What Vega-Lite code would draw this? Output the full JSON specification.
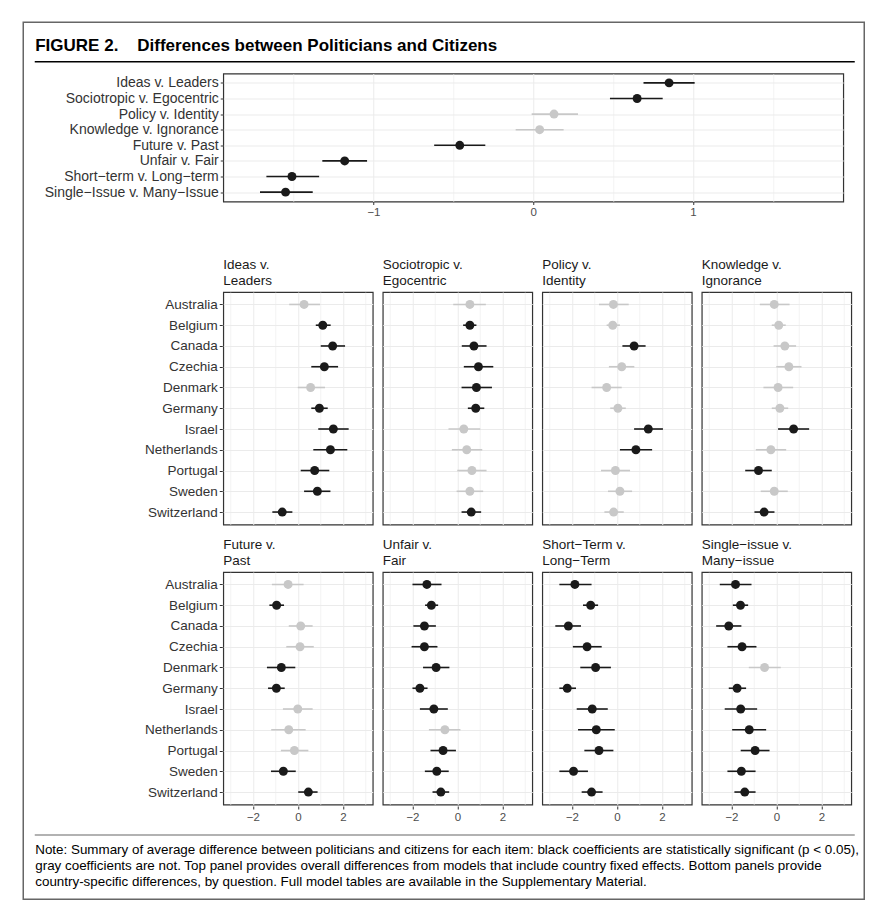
{
  "$schema": "https://vega.github.io/schema/vega-lite/v6.json",
  "padding": {"left": 22.25, "top": 21.25, "right": 5, "bottom": 5},
  "background": "white",
  "config": {
    "font": "Liberation Sans",
    "view": {"stroke": "#333333", "strokeWidth": 1.2}
  },
  "datasets": {
    "overall": [
      {"item": "Ideas v. Leaders", "est": 0.85, "lo": 0.69, "hi": 1.01, "sig": "yes"},
      {"item": "Sociotropic v. Egocentric", "est": 0.65, "lo": 0.48, "hi": 0.81, "sig": "yes"},
      {"item": "Policy v. Identity", "est": 0.13, "lo": -0.01, "hi": 0.28, "sig": "no"},
      {"item": "Knowledge v. Ignorance", "est": 0.04, "lo": -0.11, "hi": 0.19, "sig": "no"},
      {"item": "Future v. Past", "est": -0.46, "lo": -0.62, "hi": -0.30, "sig": "yes"},
      {"item": "Unfair v. Fair", "est": -1.18, "lo": -1.32, "hi": -1.04, "sig": "yes"},
      {"item": "Short−term v. Long−term", "est": -1.51, "lo": -1.67, "hi": -1.34, "sig": "yes"},
      {"item": "Single−Issue v. Many−Issue", "est": -1.55, "lo": -1.71, "hi": -1.38, "sig": "yes"}
    ],
    "country": [
      {"q": "Ideas v.|Leaders", "country": "Australia", "est": 0.27, "lo": -0.39, "hi": 0.98, "sig": "no"},
      {"q": "Ideas v.|Leaders", "country": "Belgium", "est": 1.10, "lo": 0.79, "hi": 1.45, "sig": "yes"},
      {"q": "Ideas v.|Leaders", "country": "Canada", "est": 1.54, "lo": 1.01, "hi": 2.09, "sig": "yes"},
      {"q": "Ideas v.|Leaders", "country": "Czechia", "est": 1.17, "lo": 0.59, "hi": 1.78, "sig": "yes"},
      {"q": "Ideas v.|Leaders", "country": "Denmark", "est": 0.56, "lo": -0.01, "hi": 1.20, "sig": "no"},
      {"q": "Ideas v.|Leaders", "country": "Germany", "est": 0.95, "lo": 0.59, "hi": 1.32, "sig": "yes"},
      {"q": "Ideas v.|Leaders", "country": "Israel", "est": 1.57, "lo": 0.90, "hi": 2.25, "sig": "yes"},
      {"q": "Ideas v.|Leaders", "country": "Netherlands", "est": 1.44, "lo": 0.68, "hi": 2.19, "sig": "yes"},
      {"q": "Ideas v.|Leaders", "country": "Portugal", "est": 0.74, "lo": 0.12, "hi": 1.39, "sig": "yes"},
      {"q": "Ideas v.|Leaders", "country": "Sweden", "est": 0.86, "lo": 0.27, "hi": 1.44, "sig": "yes"},
      {"q": "Ideas v.|Leaders", "country": "Switzerland", "est": -0.70, "lo": -1.14, "hi": -0.25, "sig": "yes"},

      {"q": "Sociotropic v.|Egocentric", "country": "Australia", "est": 0.55, "lo": -0.19, "hi": 1.26, "sig": "no"},
      {"q": "Sociotropic v.|Egocentric", "country": "Belgium", "est": 0.55, "lo": 0.25, "hi": 0.84, "sig": "yes"},
      {"q": "Sociotropic v.|Egocentric", "country": "Canada", "est": 0.73, "lo": 0.19, "hi": 1.29, "sig": "yes"},
      {"q": "Sociotropic v.|Egocentric", "country": "Czechia", "est": 0.93, "lo": 0.28, "hi": 1.59, "sig": "yes"},
      {"q": "Sociotropic v.|Egocentric", "country": "Denmark", "est": 0.84, "lo": 0.18, "hi": 1.53, "sig": "yes"},
      {"q": "Sociotropic v.|Egocentric", "country": "Germany", "est": 0.81, "lo": 0.46, "hi": 1.19, "sig": "yes"},
      {"q": "Sociotropic v.|Egocentric", "country": "Israel", "est": 0.28, "lo": -0.40, "hi": 1.01, "sig": "no"},
      {"q": "Sociotropic v.|Egocentric", "country": "Netherlands", "est": 0.41, "lo": -0.25, "hi": 1.10, "sig": "no"},
      {"q": "Sociotropic v.|Egocentric", "country": "Portugal", "est": 0.64, "lo": -0.01, "hi": 1.29, "sig": "no"},
      {"q": "Sociotropic v.|Egocentric", "country": "Sweden", "est": 0.55, "lo": -0.04, "hi": 1.14, "sig": "no"},
      {"q": "Sociotropic v.|Egocentric", "country": "Switzerland", "est": 0.61, "lo": 0.18, "hi": 1.05, "sig": "yes"},

      {"q": "Policy v.|Identity", "country": "Australia", "est": -0.16, "lo": -0.80, "hi": 0.52, "sig": "no"},
      {"q": "Policy v.|Identity", "country": "Belgium", "est": -0.19, "lo": -0.46, "hi": 0.13, "sig": "no"},
      {"q": "Policy v.|Identity", "country": "Canada", "est": 0.76, "lo": 0.24, "hi": 1.27, "sig": "yes"},
      {"q": "Policy v.|Identity", "country": "Czechia", "est": 0.21, "lo": -0.36, "hi": 0.77, "sig": "no"},
      {"q": "Policy v.|Identity", "country": "Denmark", "est": -0.46, "lo": -1.13, "hi": 0.21, "sig": "no"},
      {"q": "Policy v.|Identity", "country": "Germany", "est": 0.04, "lo": -0.30, "hi": 0.39, "sig": "no"},
      {"q": "Policy v.|Identity", "country": "Israel", "est": 1.39, "lo": 0.76, "hi": 2.04, "sig": "yes"},
      {"q": "Policy v.|Identity", "country": "Netherlands", "est": 0.84, "lo": 0.13, "hi": 1.56, "sig": "yes"},
      {"q": "Policy v.|Identity", "country": "Portugal", "est": -0.07, "lo": -0.71, "hi": 0.58, "sig": "no"},
      {"q": "Policy v.|Identity", "country": "Sweden", "est": 0.13, "lo": -0.40, "hi": 0.67, "sig": "no"},
      {"q": "Policy v.|Identity", "country": "Switzerland", "est": -0.15, "lo": -0.56, "hi": 0.30, "sig": "no"},

      {"q": "Knowledge v.|Ignorance", "country": "Australia", "est": -0.10, "lo": -0.74, "hi": 0.58, "sig": "no"},
      {"q": "Knowledge v.|Ignorance", "country": "Belgium", "est": 0.10, "lo": -0.21, "hi": 0.41, "sig": "no"},
      {"q": "Knowledge v.|Ignorance", "country": "Canada", "est": 0.37, "lo": -0.13, "hi": 0.87, "sig": "no"},
      {"q": "Knowledge v.|Ignorance", "country": "Czechia", "est": 0.55, "lo": -0.01, "hi": 1.11, "sig": "no"},
      {"q": "Knowledge v.|Ignorance", "country": "Denmark", "est": 0.07, "lo": -0.58, "hi": 0.74, "sig": "no"},
      {"q": "Knowledge v.|Ignorance", "country": "Germany", "est": 0.15, "lo": -0.21, "hi": 0.52, "sig": "no"},
      {"q": "Knowledge v.|Ignorance", "country": "Israel", "est": 0.76, "lo": 0.07, "hi": 1.45, "sig": "yes"},
      {"q": "Knowledge v.|Ignorance", "country": "Netherlands", "est": -0.25, "lo": -0.92, "hi": 0.43, "sig": "no"},
      {"q": "Knowledge v.|Ignorance", "country": "Portugal", "est": -0.80, "lo": -1.39, "hi": -0.21, "sig": "yes"},
      {"q": "Knowledge v.|Ignorance", "country": "Sweden", "est": -0.10, "lo": -0.70, "hi": 0.50, "sig": "no"},
      {"q": "Knowledge v.|Ignorance", "country": "Switzerland", "est": -0.55, "lo": -0.98, "hi": -0.09, "sig": "yes"},

      {"q": "Future v.|Past", "country": "Australia", "est": -0.44, "lo": -1.16, "hi": 0.25, "sig": "no"},
      {"q": "Future v.|Past", "country": "Belgium", "est": -0.95, "lo": -1.27, "hi": -0.62, "sig": "yes"},
      {"q": "Future v.|Past", "country": "Canada", "est": 0.12, "lo": -0.41, "hi": 0.65, "sig": "no"},
      {"q": "Future v.|Past", "country": "Czechia", "est": 0.09, "lo": -0.52, "hi": 0.70, "sig": "no"},
      {"q": "Future v.|Past", "country": "Denmark", "est": -0.74, "lo": -1.38, "hi": -0.12, "sig": "yes"},
      {"q": "Future v.|Past", "country": "Germany", "est": -0.96, "lo": -1.33, "hi": -0.59, "sig": "yes"},
      {"q": "Future v.|Past", "country": "Israel", "est": -0.01, "lo": -0.67, "hi": 0.65, "sig": "no"},
      {"q": "Future v.|Past", "country": "Netherlands", "est": -0.41, "lo": -1.19, "hi": 0.34, "sig": "no"},
      {"q": "Future v.|Past", "country": "Portugal", "est": -0.16, "lo": -0.76, "hi": 0.46, "sig": "no"},
      {"q": "Future v.|Past", "country": "Sweden", "est": -0.65, "lo": -1.20, "hi": -0.10, "sig": "yes"},
      {"q": "Future v.|Past", "country": "Switzerland", "est": 0.46, "lo": 0.01, "hi": 0.87, "sig": "yes"},

      {"q": "Unfair v.|Fair", "country": "Australia", "est": -1.36, "lo": -2.00, "hi": -0.71, "sig": "yes"},
      {"q": "Unfair v.|Fair", "country": "Belgium", "est": -1.16, "lo": -1.44, "hi": -0.86, "sig": "yes"},
      {"q": "Unfair v.|Fair", "country": "Canada", "est": -1.47, "lo": -1.96, "hi": -0.96, "sig": "yes"},
      {"q": "Unfair v.|Fair", "country": "Czechia", "est": -1.47, "lo": -2.04, "hi": -0.89, "sig": "yes"},
      {"q": "Unfair v.|Fair", "country": "Denmark", "est": -0.95, "lo": -1.53, "hi": -0.36, "sig": "yes"},
      {"q": "Unfair v.|Fair", "country": "Germany", "est": -1.67, "lo": -2.00, "hi": -1.33, "sig": "yes"},
      {"q": "Unfair v.|Fair", "country": "Israel", "est": -1.05, "lo": -1.67, "hi": -0.43, "sig": "yes"},
      {"q": "Unfair v.|Fair", "country": "Netherlands", "est": -0.56, "lo": -1.27, "hi": 0.13, "sig": "no"},
      {"q": "Unfair v.|Fair", "country": "Portugal", "est": -0.64, "lo": -1.20, "hi": -0.07, "sig": "yes"},
      {"q": "Unfair v.|Fair", "country": "Sweden", "est": -0.92, "lo": -1.45, "hi": -0.39, "sig": "yes"},
      {"q": "Unfair v.|Fair", "country": "Switzerland", "est": -0.74, "lo": -1.11, "hi": -0.37, "sig": "yes"},

      {"q": "Short−Term v.|Long−Term", "country": "Australia", "est": -1.87, "lo": -2.56, "hi": -1.13, "sig": "yes"},
      {"q": "Short−Term v.|Long−Term", "country": "Belgium", "est": -1.17, "lo": -1.51, "hi": -0.84, "sig": "yes"},
      {"q": "Short−Term v.|Long−Term", "country": "Canada", "est": -2.16, "lo": -2.74, "hi": -1.60, "sig": "yes"},
      {"q": "Short−Term v.|Long−Term", "country": "Czechia", "est": -1.33, "lo": -1.96, "hi": -0.68, "sig": "yes"},
      {"q": "Short−Term v.|Long−Term", "country": "Denmark", "est": -0.95, "lo": -1.63, "hi": -0.27, "sig": "yes"},
      {"q": "Short−Term v.|Long−Term", "country": "Germany", "est": -2.21, "lo": -2.56, "hi": -1.82, "sig": "yes"},
      {"q": "Short−Term v.|Long−Term", "country": "Israel", "est": -1.10, "lo": -1.79, "hi": -0.41, "sig": "yes"},
      {"q": "Short−Term v.|Long−Term", "country": "Netherlands", "est": -0.92, "lo": -1.73, "hi": -0.10, "sig": "yes"},
      {"q": "Short−Term v.|Long−Term", "country": "Portugal", "est": -0.80, "lo": -1.45, "hi": -0.16, "sig": "yes"},
      {"q": "Short−Term v.|Long−Term", "country": "Sweden", "est": -1.93, "lo": -2.56, "hi": -1.29, "sig": "yes"},
      {"q": "Short−Term v.|Long−Term", "country": "Switzerland", "est": -1.13, "lo": -1.57, "hi": -0.64, "sig": "yes"},

      {"q": "Single−issue v.|Many−issue", "country": "Australia", "est": -1.82, "lo": -2.52, "hi": -1.11, "sig": "yes"},
      {"q": "Single−issue v.|Many−issue", "country": "Belgium", "est": -1.60, "lo": -1.94, "hi": -1.26, "sig": "yes"},
      {"q": "Single−issue v.|Many−issue", "country": "Canada", "est": -2.12, "lo": -2.68, "hi": -1.56, "sig": "yes"},
      {"q": "Single−issue v.|Many−issue", "country": "Czechia", "est": -1.53, "lo": -2.18, "hi": -0.89, "sig": "yes"},
      {"q": "Single−issue v.|Many−issue", "country": "Denmark", "est": -0.53, "lo": -1.23, "hi": 0.19, "sig": "no"},
      {"q": "Single−issue v.|Many−issue", "country": "Germany", "est": -1.75, "lo": -2.12, "hi": -1.35, "sig": "yes"},
      {"q": "Single−issue v.|Many−issue", "country": "Israel", "est": -1.59, "lo": -2.30, "hi": -0.86, "sig": "yes"},
      {"q": "Single−issue v.|Many−issue", "country": "Netherlands", "est": -1.21, "lo": -1.97, "hi": -0.46, "sig": "yes"},
      {"q": "Single−issue v.|Many−issue", "country": "Portugal", "est": -0.95, "lo": -1.59, "hi": -0.31, "sig": "yes"},
      {"q": "Single−issue v.|Many−issue", "country": "Sweden", "est": -1.56, "lo": -2.18, "hi": -0.93, "sig": "yes"},
      {"q": "Single−issue v.|Many−issue", "country": "Switzerland", "est": -1.41, "lo": -1.87, "hi": -0.93, "sig": "yes"}
    ]
  },
  "columns": 1,
  "align": {"row": "none", "column": "each"},
  "spacing": -864.25,
  "concat": [
    {
      "width": 641,
      "height": 877,
      "view": {"stroke": null},
      "data": {"values": [{}]},
      "mark": {"type": "rect", "fill": null, "fillOpacity": 0, "stroke": "#666666", "strokeWidth": 1.5},
      "encoding": {
        "x": {"datum": 0, "type": "quantitative", "scale": {"domain": [0, 1], "range": [-200, 641]}, "axis": null},
        "x2": {"datum": 1},
        "y": {"datum": 0, "type": "quantitative", "scale": {"domain": [0, 1]}, "axis": null},
        "y2": {"datum": 1}
      }
    },
    {
      "columns": 1,
      "align": {"row": "none", "column": "each"},
      "spacing": 10.5,
      "concat": [
        {
          "width": 631,
          "height": 23.3,
          "view": {"stroke": null},
          "data": {"values": [{}]},
          "mark": {"type": "text", "text": "FIGURE 2.\u00a0\u00a0\u00a0\u00a0Differences between Politicians and Citizens", "align": "left", "baseline": "alphabetic", "fontSize": 17, "fontWeight": "bold", "color": "#000000"},
          "encoding": {
            "x": {"datum": 0.0012, "type": "quantitative", "scale": {"domain": [0, 1], "range": [-189, 631]},
              "axis": {"orient": "bottom", "domain": true, "domainColor": "#000000", "domainWidth": 1.5, "ticks": false, "labels": false, "grid": false, "title": null}},
            "y": {"datum": 0.46, "type": "quantitative", "scale": {"domain": [0, 1]}, "axis": null}
          }
        },
        {
          "width": 620,
          "height": 128,
          "data": {"name": "overall"},
          "resolve": {"axis": {"x": "independent"}},
          "encoding": {
            "y": {
              "field": "item",
              "type": "nominal",
              "sort": null,
              "scale": {"type": "point", "padding": 0.6},
              "axis": {
                "title": null,
                "domain": false,
                "grid": true,
                "gridColor": "#ebebeb",
                "gridWidth": 1,
                "tickSize": 3,
                "tickColor": "#333333",
                "labelFontSize": 14,
                "labelColor": "#333333",
                "labelPadding": 2,
                "minExtent": 189
              }
            }
          },
          "layer": [
            {
              "mark": {"type": "rule", "strokeWidth": 1.6},
              "encoding": {
                "x": {
                  "field": "lo",
                  "type": "quantitative",
                  "scale": {"domain": [-1.94, 1.94], "nice": false, "zero": false},
                  "axis": {
                    "orient": "bottom",
                    "title": null,
                    "values": [-1, 0, 1],
                    "domain": false,
                    "grid": true,
                    "gridColor": "#ebebeb",
                    "gridWidth": 1,
                    "tickSize": 3,
                    "tickColor": "#333333",
                    "labelFontSize": 11.5,
                    "labelColor": "#4d4d4d",
                    "labelPadding": 2,
                    "minExtent": 44
                  }
                },
                "x2": {"field": "hi"},
                "color": {
                  "field": "sig",
                  "type": "nominal",
                  "scale": {"domain": ["yes", "no"], "range": ["#1a1a1a", "#c8c8c8"]},
                  "legend": null
                }
              }
            },
            {
              "mark": {"type": "circle", "size": 80, "opacity": 1},
              "encoding": {
                "x": {
                  "field": "est",
                  "type": "quantitative",
                  "axis": {
                    "orient": "top",
                    "title": null,
                    "values": [-1.5, -0.5, 0.5, 1.5],
                    "labels": false,
                    "ticks": false,
                    "domain": false,
                    "grid": true,
                    "gridColor": "#ebebeb",
                    "gridWidth": 0.6
                  }
                },
                "color": {"field": "sig", "type": "nominal", "legend": null}
              }
            },
            {
              "mark": {"type": "rule", "color": "#000000", "strokeWidth": 1.2, "strokeDash": [1.5, 2.5]},
              "encoding": {"x": {"datum": 0, "type": "quantitative", "axis": null}}
            }
          ]
        },
        {
          "data": {"name": "country"},
          "columns": 4,
          "spacing": {"column": 7.5, "row": 11},
          "facet": {
            "field": "q",
            "type": "nominal",
            "sort": ["Ideas v.|Leaders", "Sociotropic v.|Egocentric", "Policy v.|Identity", "Knowledge v.|Ignorance", "Future v.|Past", "Unfair v.|Fair", "Short−Term v.|Long−Term", "Single−issue v.|Many−issue"],
            "title": null,
            "header": {
              "labelExpr": "split(datum.label, '|')",
              "labelAnchor": "start",
              "labelAlign": "left",
              "labelFontSize": 13.5,
              "labelColor": "#1a1a1a",
              "labelLineHeight": 15.5,
              "labelPadding": -9,
              "labelBaseline": "bottom"
            }
          },
          "spec": {
            "width": 149.5,
            "height": 232.5,
            "resolve": {"axis": {"x": "independent"}},
            "encoding": {
              "y": {
                "field": "country",
                "type": "nominal",
                "sort": null,
                "scale": {"type": "point", "padding": 0.6},
                "axis": {
                  "title": null,
                  "domain": false,
                  "grid": true,
                  "gridColor": "#ebebeb",
                  "gridWidth": 1,
                  "tickSize": 3,
                  "tickColor": "#333333",
                  "labelFontSize": 13.5,
                  "labelColor": "#333333",
                  "labelPadding": 2,
                  "minExtent": 189
                }
              }
            },
            "layer": [
              {
                "mark": {"type": "rule", "strokeWidth": 1.6},
                "encoding": {
                  "x": {
                    "field": "lo",
                    "type": "quantitative",
                    "scale": {"domain": [-3.32, 3.32], "nice": false, "zero": false},
                    "axis": {
                      "orient": "bottom",
                      "title": null,
                      "values": [-2, 0, 2],
                      "domain": false,
                      "grid": true,
                      "gridColor": "#ebebeb",
                      "gridWidth": 1,
                      "tickSize": 3,
                      "tickColor": "#333333",
                      "labelFontSize": 11.5,
                      "labelColor": "#4d4d4d",
                      "labelPadding": 2,
                      "minExtent": 17.5
                    }
                  },
                  "x2": {"field": "hi"},
                  "color": {
                    "field": "sig",
                    "type": "nominal",
                    "scale": {"domain": ["yes", "no"], "range": ["#1a1a1a", "#c8c8c8"]},
                    "legend": null
                  }
                }
              },
              {
                "mark": {"type": "circle", "size": 80, "opacity": 1},
                "encoding": {
                  "x": {
                    "field": "est",
                    "type": "quantitative",
                    "axis": {
                      "orient": "top",
                      "title": null,
                      "values": [-3, -1, 1, 3],
                      "labels": false,
                      "ticks": false,
                      "domain": false,
                      "grid": true,
                      "gridColor": "#ebebeb",
                      "gridWidth": 0.6
                    }
                  },
                  "color": {"field": "sig", "type": "nominal", "legend": null}
                }
              },
              {
                "mark": {"type": "rule", "color": "#000000", "strokeWidth": 1.2, "strokeDash": [1.5, 2.5]},
                "encoding": {"x": {"datum": 0, "type": "quantitative", "axis": null}}
              }
            ]
          }
        },
        {
          "width": 631,
          "height": 58,
          "view": {"stroke": null},
          "data": {"values": [{}]},
          "mark": {
            "type": "text",
            "text": [
              "Note: Summary of average difference between politicians and citizens for each item: black coefficients are statistically significant (p < 0.05),",
              "gray coefficients are not. Top panel provides overall differences from models that include country fixed effects. Bottom panels provide",
              "country-specific differences, by question. Full model tables are available in the Supplementary Material."
            ],
            "align": "left",
            "baseline": "top",
            "fontSize": 13.4,
            "lineHeight": 16,
            "color": "#000000"
          },
          "encoding": {
            "x": {"datum": 0.0012, "type": "quantitative", "scale": {"domain": [0, 1], "range": [-189, 631]},
              "axis": {"orient": "top", "domain": true, "domainColor": "#999999", "domainWidth": 1.5, "ticks": false, "labels": false, "grid": false, "title": null}},
            "y": {"datum": 0.86, "type": "quantitative", "scale": {"domain": [0, 1]}, "axis": null}
          }
        }
      ]
    }
  ]
}
